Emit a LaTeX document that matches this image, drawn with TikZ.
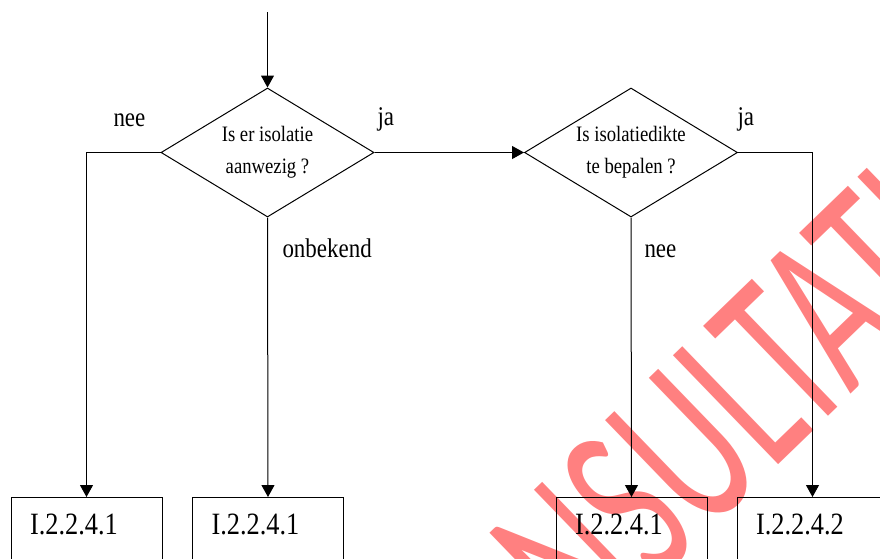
\documentclass[tikz,border=0pt]{standalone}
\usepackage{fontspec}
\setmainfont{Liberation Serif}[FakeStretch=0.85]
\newfontfamily\wmfont{Carlito}[FakeStretch=0.62]
\usetikzlibrary{shapes.geometric,arrows.meta}
\definecolor{wmred}{RGB}{255,128,128}
\begin{document}
\begin{tikzpicture}[x=1pt,y=-1pt,line width=1pt,line cap=butt,line join=miter,
    arr/.style={-{Triangle[width=13pt,length=12pt]}},
    ask/.style={diamond,draw,aspect=1.65,inner sep=0pt,minimum width=213pt,minimum height=129pt,
      align=center,font=\fontsize{22}{32}\selectfont},
    lbl/.style={inner sep=0pt,anchor=base west,font=\fontsize{27}{32}\selectfont},
    outbox/.style={draw,anchor=north,minimum width=151pt,inner xsep=19pt,inner ysep=16pt,
      text width=113pt,align=left,text height=21pt,text depth=60pt,font=\fontsize{31}{32}\selectfont},
    wmark/.style={inner sep=0pt,text=wmred,font=\wmfont\fontsize{236}{236}\selectfont}]
    \useasboundingbox (0,0) rectangle (880,558);
    \clip (0,0) rectangle (880,558);
    % watermark
    \node[wmark,rotate=44,anchor=base west] (wm) at (462,770) {CONSULTATIE};
    % questions
    \coordinate (in) at (267.5,12);
    \node[ask] (d1) at (267.5,152.5) {Is er isolatie\\aanwezig ?};
    \node[ask] (d2) at (631,152.5) {Is isolatiedikte\\te bepalen ?};
    % outcomes
    \foreach \n/\x/\t in {b1/86.5/I.2.2.4.1,b2/268/I.2.2.4.1,b3/631.5/I.2.2.4.1,b4/812.5/I.2.2.4.2}{
      \node[outbox] (\n) at (\x,497) {\t};}
    % connectors
    \draw[arr] (in) -- (d1.north);
    \draw[arr] (d1.west) -| (b1.north);
    \draw[arr] (d1.south) -- (b2.north);
    \draw[arr] (d1.east) -- (d2.west);
    \draw[arr] (d2.south) -- (b3.north);
    \draw[arr] (d2.east) -| (b4.north);
    % answers
    \node[lbl] (l1) at (113,126) {nee};
    \node[lbl] (l2) at (377,125) {ja};
    \node[lbl] (l3) at (282,257) {onbekend};
    \node[lbl] (l4) at (644,257) {nee};
    \node[lbl] (l5) at (737,125) {ja};
  \end{tikzpicture}
\end{document}
